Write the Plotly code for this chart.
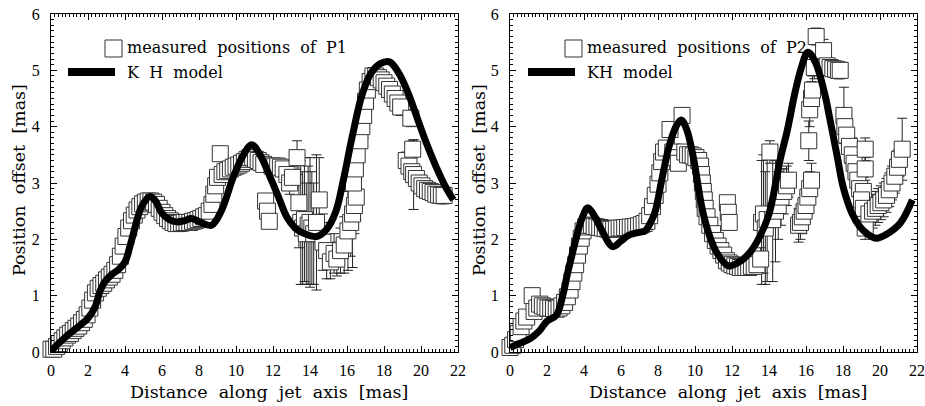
import plotly.graph_objects as go

# ---------------- P1 (left panel) ----------------
p1_x = [0.0, 0.15, 0.3, 0.45, 0.6, 0.75, 0.9, 1.05, 1.2, 1.35, 1.5, 1.65, 1.8, 1.95, 2.1, 2.25, 2.4, 2.55, 2.7, 2.85,
        3.0, 3.15, 3.3, 3.45, 3.6, 3.75, 3.9, 4.05, 4.2, 4.35, 4.5, 4.65, 4.8, 4.95, 5.1, 5.25, 5.4,
        5.55, 5.7, 5.85, 6.0, 6.15, 6.3, 6.45, 6.6, 6.75, 6.9, 7.05, 7.2, 7.35, 7.5, 7.65, 7.8, 7.95, 8.1, 8.25, 8.4, 8.55,
        8.7, 8.8, 8.9, 9.0, 9.15, 9.25, 9.4, 9.55, 9.7, 9.85, 10.0, 10.15, 10.3, 10.45, 10.6, 10.75, 10.9,
        11.05, 11.2, 11.35, 11.5, 11.6, 11.7, 11.8, 11.95, 12.1, 12.25, 12.4, 12.55,
        12.75, 12.9, 13.05, 13.3, 13.4, 13.5, 13.6, 13.7, 13.8, 13.9, 14.0, 14.1, 14.2, 14.35, 14.5,
        14.7, 14.9, 15.1, 15.3, 15.45, 15.65, 15.85, 16.05, 16.2, 16.3, 16.4, 16.5, 16.35, 16.45, 16.55, 16.7, 16.8,
        16.9, 17.0, 17.1, 17.25,
        17.4, 17.55, 17.7, 17.85, 18.0, 18.15, 18.3, 18.45, 18.6, 18.75, 18.9, 19.45,
        19.2, 19.35, 19.5, 19.55, 19.6, 19.75, 19.9, 20.05, 20.2, 20.35, 20.5, 20.65, 20.8, 20.95, 21.1, 21.25]
p1_y = [0.05, 0.05, 0.1, 0.15, 0.2, 0.25, 0.3, 0.33, 0.38, 0.42, 0.46, 0.52, 0.58, 0.66, 0.78, 0.92, 1.05, 1.13, 1.18, 1.22,
        1.28, 1.33, 1.38, 1.45, 1.55, 1.7, 1.88, 2.05, 2.2, 2.33, 2.43, 2.52, 2.58, 2.63, 2.66, 2.68, 2.68,
        2.66, 2.62, 2.55, 2.48, 2.42, 2.37, 2.33, 2.3, 2.28, 2.28, 2.29, 2.3, 2.3, 2.3, 2.32, 2.33, 2.35, 2.37, 2.4, 2.42, 2.5,
        2.62, 2.8, 2.95, 3.1, 3.52, 3.15, 3.2, 3.22, 3.25, 3.28, 3.3, 3.32, 3.35, 3.38, 3.42, 3.45, 3.45,
        3.42, 3.4, 3.36, 3.33, 2.68, 2.5, 2.32, 3.3, 3.3, 3.3, 3.28, 3.25,
        3.15, 3.0, 3.1, 3.45, 2.65, 2.3, 2.2, 2.35, 2.1, 2.25, 2.3, 2.2, 2.1, 2.3, 2.7,
        1.95, 1.8, 1.6, 1.75, 1.65, 1.8, 1.9, 2.15, 2.3, 2.45, 2.6, 2.75, 3.0, 3.25, 3.5, 3.75, 4.0,
        4.2, 4.45, 4.65, 4.8,
        4.9, 4.9, 4.87, 4.83, 4.78, 4.72, 4.66, 4.58, 4.5, 4.42, 4.35, 4.15,
        3.4, 3.3, 3.2, 3.6, 3.15, 3.08, 3.0, 2.95, 2.9, 2.87, 2.85, 2.83, 2.8, 2.79, 2.78, 2.78]
p1_err = [0.12] * 37 + [0.12] * 21 + [0.12] * 17 + [0.12] * 12 + \
         [0.15, 0.2, 0.2, 0.3, 0.8, 1.1, 1.0, 1.1, 0.9, 1.05, 1.15, 1.0, 0.9, 1.2, 0.75] + \
         [0.5, 0.5, 0.3, 0.35, 0.3, 0.4, 0.5, 0.7, 0.6, 0.95, 0.5, 0.4, 0.3, 0.3, 0.35, 0.3, 0.3,
          0.4, 0.3, 0.25, 0.2] + \
         [0.15] * 12 + \
         [0.15, 0.15, 0.15, 0.15, 0.62, 0.15, 0.15, 0.15, 0.15, 0.15, 0.15, 0.15, 0.15, 0.15, 0.15, 0.15]

kh1_x = [0, 0.22, 0.8, 1.48, 2.0, 2.38, 2.65, 2.92, 3.3, 3.64, 4.0, 4.36, 4.9, 5.35, 5.65, 5.98, 6.4, 6.79, 7.2, 7.6,
         8.1, 8.68, 9.2, 9.86, 10.4, 10.85, 11.3, 11.84, 12.3, 12.74, 13.2, 13.64, 14.36, 14.9, 15.4, 15.8, 16.3,
         16.8, 17.3, 17.8, 18.3, 18.8, 19.3, 19.8, 20.3, 20.8, 21.3, 21.75]
kh1_y = [0, 0.09, 0.27, 0.45, 0.6, 0.8, 1.08, 1.25, 1.38, 1.46, 1.6, 1.99, 2.58, 2.76, 2.68, 2.47, 2.35, 2.31, 2.33, 2.37,
         2.3, 2.25, 2.5, 3.11, 3.5, 3.68, 3.5, 3.11, 2.75, 2.4, 2.2, 2.11, 2.05, 2.18, 2.5, 3.05, 3.85,
         4.55, 4.95, 5.12, 5.15, 4.95, 4.6, 4.15, 3.7, 3.3, 2.95, 2.7]

# ---------------- P2 (right panel) ----------------
p2_x = [0.0, 0.15, 0.3, 0.45, 0.6, 0.75, 0.9, 1.2, 1.3, 1.45, 1.6, 1.75, 1.9, 2.05, 2.2, 2.35, 2.5, 2.65,
        2.8, 2.95, 3.1, 3.25, 3.35, 3.45, 3.55, 3.65, 3.75, 3.85, 3.95, 4.1,
        4.25, 4.4, 4.55, 4.7, 4.85, 5.0, 5.15, 5.3, 5.45, 5.6, 5.75, 5.9, 6.05, 6.2, 6.35, 6.5, 6.65, 6.8, 6.95, 7.1, 7.25, 7.4,
        7.55, 7.7, 7.85, 8.0, 8.1, 8.2, 8.3, 8.45, 8.65, 8.8, 8.95, 9.1, 9.3, 9.45, 9.6, 9.75, 9.9, 10.05, 10.2, 10.3,
        10.35, 10.4, 10.45, 10.5, 10.55, 10.65, 10.8,
        10.95, 11.1, 11.25, 11.4, 11.55, 11.75, 11.8, 11.85, 11.7, 11.85, 12.0, 12.15, 12.3, 12.45, 12.6, 12.75, 12.9,
        13.05, 13.2, 13.35,
        13.55, 13.6, 13.7, 13.8, 13.9, 14.05, 14.2, 14.35, 14.5, 14.65, 14.8, 14.95, 15.05,
        15.6, 15.7, 15.8, 15.9, 16.0, 16.1, 16.2, 16.3,
        16.15, 16.2, 16.3, 16.35, 16.45, 16.55, 16.95, 17.15, 17.3, 17.45, 17.6, 17.75, 17.85,
        18.05, 18.1, 18.2, 18.35, 18.5, 18.6, 18.7, 18.8, 18.9, 19.2, 19.2, 19.1, 19.0, 19.1, 19.2,
        19.4, 19.6, 19.75, 19.9, 20.05, 20.2, 20.35, 20.5, 20.65, 20.8, 20.95, 21.05, 21.2]
p2_y = [0.08, 0.12, 0.22, 0.33, 0.45, 0.55, 0.62, 1.0, 0.72, 0.78, 0.85, 0.82, 0.8, 0.78, 0.78, 0.77, 0.76, 0.78,
        0.82, 0.88, 0.98, 1.1, 1.25, 1.4, 1.55, 1.72, 1.88, 2.02, 2.15, 2.22,
        2.25, 2.25, 2.23, 2.22, 2.21, 2.2, 2.19, 2.18, 2.18, 2.18, 2.19, 2.2, 2.2, 2.21, 2.21, 2.22, 2.22, 2.23, 2.24, 2.26, 2.28, 2.32,
        2.42, 2.58, 2.78, 2.98, 3.18, 3.38, 3.55, 3.62, 3.95, 3.55, 3.45, 3.35, 4.2, 3.55, 3.5, 3.5, 3.48, 3.45, 3.4, 3.3,
        3.15, 3.0, 2.85, 2.7, 2.55, 2.4, 2.25,
        2.1, 1.98, 1.88, 1.8, 1.72, 2.65, 2.48, 2.3, 1.62, 1.58, 1.55, 1.53, 1.52, 1.5, 1.5, 1.5, 1.5,
        1.52, 1.52, 1.55,
        1.65, 2.3, 2.45, 2.2, 2.35, 3.55, 2.35, 2.5, 2.6, 2.75, 2.85, 2.95, 3.05,
        2.25, 2.3, 2.4, 2.5, 2.6, 2.75, 2.9, 3.05,
        3.75, 4.3, 4.5, 4.65, 5.05, 5.6, 5.35, 5.08, 5.05, 5.03, 5.02, 5.0, 5.0,
        4.2, 4.0, 3.85, 3.65, 3.5, 3.35, 3.2, 3.05, 2.9, 3.6, 3.25, 2.85, 2.7, 2.55, 2.2,
        2.45, 2.5, 2.55, 2.6, 2.65, 2.7, 2.78, 2.88, 3.0, 3.12, 3.28, 3.42, 3.6]
p2_err = [0.12] * 30 + [0.12] * 22 + [0.12] * 27 + \
         [0.12] * 20 + \
         [0.2, 1.1, 1.05, 1.0, 1.1, 0.2, 1.1, 0.9, 0.6, 0.5, 0.4, 0.35, 0.3] + \
         [0.3] * 8 + \
         [0.35, 0.3, 0.3, 0.25, 0.2, 0.15, 0.2, 0.15, 0.15, 0.15, 0.15, 0.15, 0.15] + \
         [0.5, 0.3, 0.3, 0.3, 0.3, 0.3, 0.3, 0.3, 0.3, 0.2, 0.2, 0.25, 0.25, 0.25, 0.2] + \
         [0.3, 0.3, 0.3, 0.3, 0.3, 0.3, 0.3, 0.3, 0.3, 0.3, 0.3, 0.3, 0.55]

kh2_x = [0, 0.5, 1.1, 1.6, 2.0, 2.5, 2.85, 3.1, 3.35, 3.6, 3.9, 4.2, 4.5, 4.95, 5.55, 6.0, 6.4, 6.9, 7.3, 7.6, 7.85,
         8.2, 8.6, 9.0, 9.25, 9.55, 9.9, 10.4, 10.8, 11.2, 11.8, 12.4, 13.0, 13.5, 14.0, 14.6, 15.0, 15.4, 15.75,
         16.1, 16.5, 17.0, 17.3, 17.7, 18.0, 18.5, 18.9, 19.3, 19.8, 20.4, 21.1, 21.75]
kh2_y = [0.08, 0.15, 0.24, 0.38, 0.55, 0.65, 1.0, 1.38, 1.72, 2.05, 2.38, 2.56, 2.45, 2.17, 1.87, 1.97, 2.07, 2.12, 2.15,
         2.3, 2.5, 3.05, 3.65, 4.02, 4.12, 3.95, 3.47, 2.52, 2.05, 1.75, 1.53, 1.6, 1.78, 2.05, 2.45, 3.41, 3.95, 4.6,
         5.05, 5.32, 5.15, 4.6, 4.12, 3.45, 2.94, 2.45, 2.23, 2.1, 2.02, 2.1, 2.29, 2.7]

x_ticks = [0, 2, 4, 6, 8, 10, 12, 14, 16, 18, 20, 22]
y_ticks = [0, 1, 2, 3, 4, 5, 6]

TICK_FONT = "Liberation Serif"
TEXT_FONT = "DejaVu Serif"
# The page body margin is removed in post_script, so the figure fills the window from (0, 0).
W, H = 925, 406
sq_line = "#333333"


def fx(px):
    return px / W


def fy(py):
    return 1 - py / H


fig = go.Figure()


def add_panel(xs, ys, errs, kx, ky, xa, ya):
    fig.add_trace(go.Scatter(
        x=xs, y=ys, xaxis=xa, yaxis=ya, mode="markers", cliponaxis=False,
        marker=dict(symbol="square", size=16, color="white", line=dict(color=sq_line, width=1)),
        error_y=dict(type="data", array=errs, visible=True, color="#222222", thickness=1, width=5),
        showlegend=False, hoverinfo="skip"))
    fig.add_trace(go.Scatter(
        x=kx, y=ky, xaxis=xa, yaxis=ya, mode="lines", cliponaxis=False,
        line=dict(color="black", width=7, shape="spline", smoothing=1.0),
        showlegend=False, hoverinfo="skip"))


add_panel(p1_x, p1_y, p1_err, kh1_x, kh1_y, "x", "y")
add_panel(p2_x, p2_y, p2_err, kh2_x, kh2_y, "x2", "y2")

ydom = [fy(352), fy(14)]
xdom1 = [fx(51), fx(458)]
xdom2 = [fx(510), fx(917)]

axis_common = dict(showline=True, linecolor="black", linewidth=1, mirror="allticks", ticks="inside",
                   ticklen=6, tickwidth=1, tickcolor="black", showgrid=False, zeroline=False,
                   automargin=False, ticklabeloverflow="allow",
                   tickfont=dict(family=TICK_FONT, size=16, color="black"))

xa = dict(axis_common, range=[0, 22], tickvals=x_ticks, ticktext=[str(v) for v in x_ticks],
          minor=dict(dtick=0.2, tick0=0, ticks="inside", ticklen=3, tickcolor="black", tickwidth=1),
          ticklabelstandoff=4)
ya = dict(axis_common, range=[0, 6], tickvals=y_ticks, ticktext=[str(v) for v in y_ticks],
          minor=dict(dtick=0.1, tick0=0, ticks="inside", ticklen=3, tickcolor="black", tickwidth=1),
          ticklabelstandoff=7)

fig.update_layout(
    width=W, height=H, margin=dict(l=0, r=0, t=0, b=0, autoexpand=False),
    paper_bgcolor="white", plot_bgcolor="white", showlegend=False,
    xaxis=dict(xa, domain=xdom1, anchor="y"),
    yaxis=dict(ya, domain=ydom, anchor="x"),
    xaxis2=dict(xa, domain=xdom2, anchor="y2"),
    yaxis2=dict(ya, domain=ydom, anchor="x2"),
)

sp = "\u00a0 "
ann = []
shapes = []
for (x_title_c, y_title_x, leg_sq_x0, leg_line_x0, leg_txt_x, label, model) in [
        (269, 19, 105, 68, 125, "measured" + sp + "positions" + sp + "of" + sp + "P1", "K" + sp + "H" + sp + "model"),
        (728, 479, 565, 528, 585, "measured" + sp + "positions" + sp + "of" + sp + "P2", "KH" + sp + "model")]:
    ann.append(dict(x=fx(x_title_c), y=fy(392), xref="paper", yref="paper", showarrow=False,
                    text="Distance" + sp + "along" + sp + "jet" + sp + "axis" + sp + "[mas]",
                    font=dict(family=TEXT_FONT, size=17.5, color="black"), xanchor="center", yanchor="middle"))
    ann.append(dict(x=fx(y_title_x), y=fy(180), xref="paper", yref="paper", showarrow=False,
                    text="Position" + sp + "offset" + sp + "[mas]", textangle=-90,
                    font=dict(family=TEXT_FONT, size=17.5, color="black"), xanchor="center", yanchor="middle"))
    ann.append(dict(x=fx(leg_txt_x), y=fy(48), xref="paper", yref="paper", showarrow=False,
                    text=label, font=dict(family=TEXT_FONT, size=16, color="black"),
                    xanchor="left", yanchor="middle"))
    ann.append(dict(x=fx(leg_txt_x), y=fy(72), xref="paper", yref="paper", showarrow=False,
                    text=model, font=dict(family=TEXT_FONT, size=16, color="black"),
                    xanchor="left", yanchor="middle"))
    shapes.append(dict(type="rect", xref="paper", yref="paper",
                       x0=fx(leg_sq_x0), x1=fx(leg_sq_x0 + 17), y0=fy(57), y1=fy(40),
                       line=dict(color=sq_line, width=1), fillcolor="white"))
    shapes.append(dict(type="line", xref="paper", yref="paper",
                       x0=fx(leg_line_x0), x1=fx(leg_line_x0 + 47), y0=fy(72), y1=fy(72),
                       line=dict(color="black", width=8)))

fig.update_layout(annotations=ann, shapes=shapes)
fig.write_html("out.html", config={"displayModeBar": False},
               post_script="document.body.style.margin='0';document.body.style.overflow='hidden';")
